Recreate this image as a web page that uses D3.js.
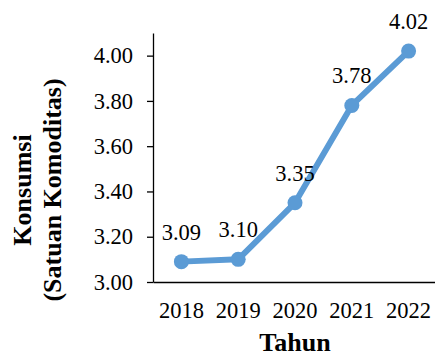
<!DOCTYPE html>
<html>
<head>
<meta charset="utf-8">
<script src="https://cdn.jsdelivr.net/npm/d3@7"></script>
<style>
  body { margin: 0; background: #fff; }
  text { font-family: "Liberation Serif", "Times New Roman", serif; fill: #000; }
</style>
</head>
<body>
<svg id="chart" width="435" height="358"></svg>
<script>
const years = ['2018', '2019', '2020', '2021', '2022']
const konsumsi = [3.09, 3.10, 3.35, 3.78, 4.02]
const yTicks = [3.0, 3.2, 3.4, 3.6, 3.8, 4.0]

const W = 435
const H = 358
const margin = { top: 33, right: -2, bottom: 76, left: 153 }

const svg = d3.select('#chart')

const x = d3.scaleBand()
  .domain(years)
  .range([margin.left, W - margin.right])

const y = d3.scaleLinear()
  .domain([3.0, 4.1])
  .range([H - margin.bottom, margin.top])

// y axis
const yAxis = d3.axisLeft(y)
  .tickValues(yTicks)
  .tickFormat(d3.format('.2f'))
  .tickSizeOuter(0)
  .tickSizeInner(6)
  .tickPadding(14)

const gy = svg.append('g')
  .attr('transform', `translate(${margin.left},0)`)
  .call(yAxis)
gy.select('.domain').attr('stroke', '#000').attr('stroke-width', 1.3)
gy.selectAll('.tick line').attr('stroke', '#000').attr('stroke-width', 1.3)
gy.selectAll('.tick text').attr('font-size', 22.5)

// x axis
const xAxis = d3.axisBottom(x).tickSize(0).tickPadding(20)
const gx = svg.append('g')
  .attr('transform', `translate(0,${H - margin.bottom})`)
  .call(xAxis)
gx.select('.domain').attr('stroke', '#000').attr('stroke-width', 1.3)
gx.selectAll('.tick text').attr('font-size', 22.5)

const cx = (d, i) => x(years[i]) + x.bandwidth() / 2

// line
const line = d3.line()
  .x((d, i) => cx(d, i))
  .y((d) => y(d))

svg.append('path')
  .datum(konsumsi)
  .attr('d', line)
  .attr('fill', 'none')
  .attr('stroke', '#5B9BD5')
  .attr('stroke-width', 6)
  .attr('stroke-linejoin', 'round')

svg.selectAll('circle.pt')
  .data(konsumsi)
  .join('circle')
  .attr('class', 'pt')
  .attr('cx', cx)
  .attr('cy', (d) => y(d))
  .attr('r', 7.5)
  .attr('fill', '#5B9BD5')

// data labels
svg.selectAll('text.lbl')
  .data(konsumsi)
  .join('text')
  .attr('class', 'lbl')
  .attr('x', cx)
  .attr('y', (d) => y(d) - 22)
  .attr('text-anchor', 'middle')
  .attr('font-size', 22.5)
  .text((d) => d.toFixed(2))

// axis titles
svg.append('text')
  .attr('x', (margin.left + W - margin.right) / 2)
  .attr('y', 351)
  .attr('text-anchor', 'middle')
  .attr('font-size', 26)
  .attr('font-weight', 'bold')
  .text('Tahun')

const yTitle = svg.append('text')
  .attr('transform', 'translate(31,190) rotate(-90)')
  .attr('text-anchor', 'middle')
  .attr('font-size', 26)
  .attr('font-weight', 'bold')
yTitle.append('tspan').attr('x', 0).attr('y', 0).text('Konsumsi')
yTitle.append('tspan').attr('x', 0).attr('y', 30).text('(Satuan Komoditas)')
</script>
</body>
</html>
